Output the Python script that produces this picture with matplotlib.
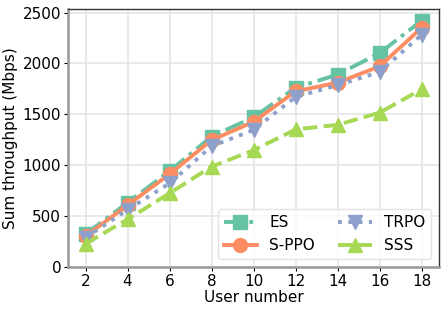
import numpy as np
import matplotlib
matplotlib.use("Agg")
from matplotlib import pyplot as plt

users = [2, 4, 6, 8, 10, 12, 14, 16, 18]
es = [320, 630, 940, 1280, 1470, 1760, 1890, 2100, 2420]
s_ppo = [300, 605, 910, 1245, 1425, 1725, 1810, 1970, 2350]
trpo = [285, 560, 820, 1185, 1345, 1670, 1785, 1915, 2280]
sss = [225, 466, 722, 984, 1145, 1350, 1395, 1515, 1745]

colors = ['#66c2a5', '#fc8d62', '#8da0cb', '#a6d854']

plt.rcParams['font.family'] = 'DejaVu Sans'
plt.rcParams['font.size'] = 11

fig = plt.figure(figsize=(4.45, 3.11), dpi=100)
ax = fig.add_axes([0.153, 0.1425, 0.8335, 0.827])

ax.plot(users, es, color=colors[0], linestyle=(0, (5, 1.5, 1, 1.5)), linewidth=2.8,
        marker='s', markersize=10, label='ES')
ax.plot(users, s_ppo, color=colors[1], linestyle='-', linewidth=2.8,
        marker='o', markersize=10, label='S-PPO')
ax.plot(users, trpo, color=colors[2], linestyle=':', linewidth=2.8,
        marker='v', markersize=10, label='TRPO')
ax.plot(users, sss, color=colors[3], linestyle='--', linewidth=2.8,
        marker='^', markersize=10, label='SSS')

ax.set_xticks(users)
ax.set_yticks([0, 500, 1000, 1500, 2000, 2500])
ax.set_ylim(0, 2530)
ax.set_xlim(1.17, 18.83)
ax.grid(True, color='#e5e5e5', linewidth=1.2)
ax.set_axisbelow(True)
ax.tick_params(length=3, pad=2)

for side in ['left', 'bottom']:
    ax.spines[side].set_color('#999999')
    ax.spines[side].set_linewidth(1.8)
for side in ['top', 'right']:
    ax.spines[side].set_color('#333333')
    ax.spines[side].set_linewidth(1.0)

ax.set_xlabel('User number', labelpad=1)
ax.set_ylabel('Sum throughput (Mbps)', labelpad=3)
ax.legend(ncol=2, loc='lower right', fontsize=11, handlelength=2.2,
          columnspacing=1.5, edgecolor='#dddddd')

fig.savefig('out.png', dpi=100)
